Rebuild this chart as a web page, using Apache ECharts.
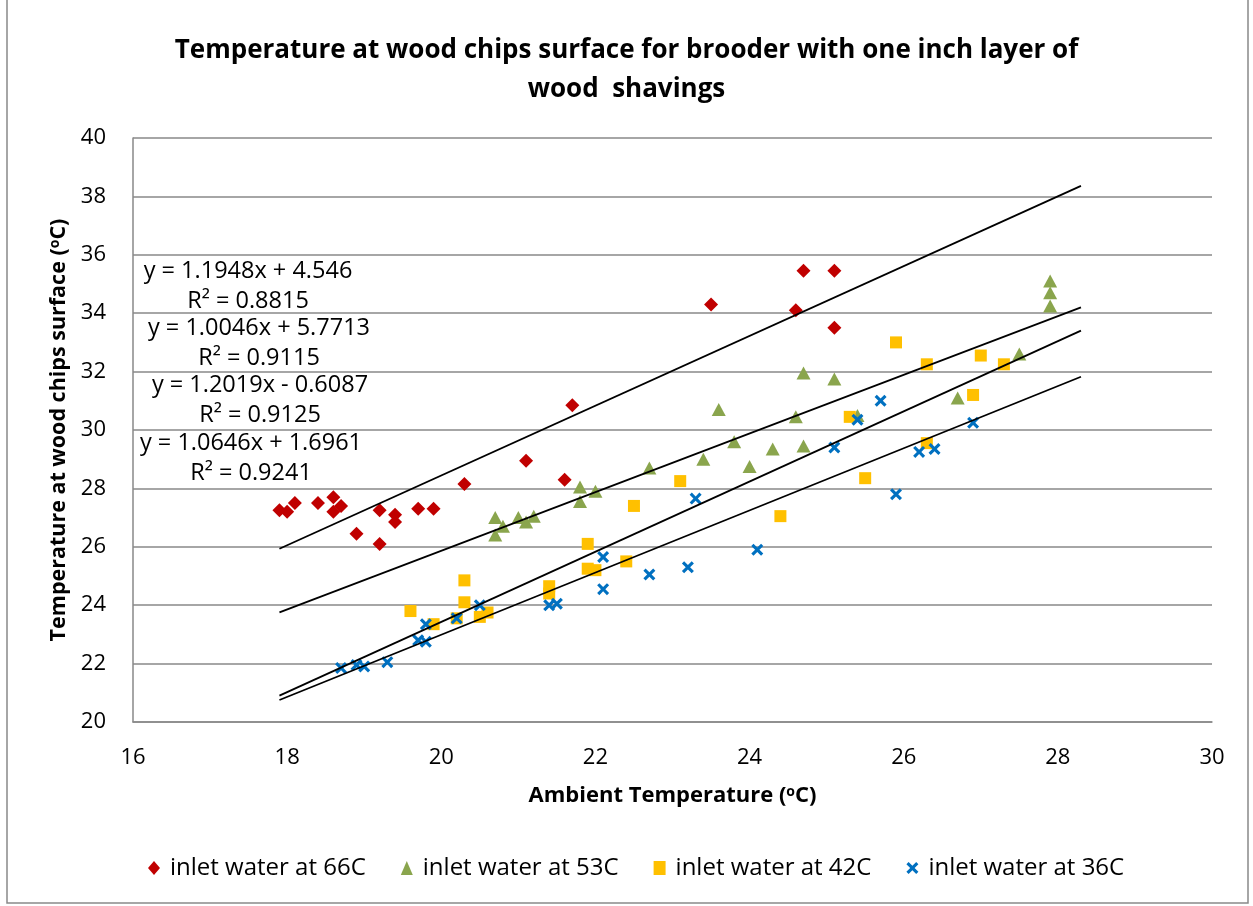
<!DOCTYPE html>
<html>
<head>
<meta charset="utf-8">
<script src="https://cdn.jsdelivr.net/npm/echarts@6/dist/echarts.min.js"></script>
<style>
  html, body { margin: 0; padding: 0; background: #fff; }
  #chart { width: 1253px; height: 906px; }
</style>
</head>
<body>
<div id="chart"></div>
<script>
// Measured surface temperature vs ambient temperature, one series per inlet water temperature
const seriesNames = ['inlet water at 66C', 'inlet water at 53C', 'inlet water at 42C', 'inlet water at 36C'];

const inlet66 = [[17.9,27.25],[18.0,27.2],[18.1,27.5],[18.4,27.5],[18.6,27.7],[18.6,27.2],[18.7,27.4],
  [18.9,26.45],[19.2,27.25],[19.2,26.1],[19.4,27.1],[19.4,26.85],[19.7,27.3],[19.9,27.3],[20.3,28.15],
  [21.1,28.95],[21.6,28.3],[21.7,30.85],[23.5,34.3],[24.6,34.1],[24.7,35.45],[25.1,35.45],[25.1,33.5]];

const inlet53 = [[20.7,26.4],[20.7,27.0],[20.8,26.7],[21.0,27.0],[21.1,26.85],[21.2,27.05],[21.8,28.05],
  [21.8,27.55],[22.0,27.9],[22.7,28.7],[23.4,29.0],[23.6,30.7],[23.8,29.6],[24.0,28.75],[24.3,29.35],
  [24.6,30.45],[24.7,31.95],[24.7,29.45],[25.1,31.75],[25.4,30.5],[26.7,31.1],[27.5,32.6],[27.9,35.1],
  [27.9,34.7],[27.9,34.25]];

const inlet42 = [[19.6,23.8],[19.9,23.35],[20.2,23.55],[20.3,24.85],[20.3,24.1],[20.5,23.6],[20.6,23.75],
  [21.4,24.65],[21.4,24.4],[21.9,26.1],[21.9,25.25],[22.0,25.2],[22.4,25.5],[22.5,27.4],[23.1,28.25],
  [24.4,27.05],[25.3,30.45],[25.5,28.35],[25.9,33.0],[26.3,32.25],[26.3,29.55],[26.9,31.2],[27.0,32.55],
  [27.3,32.25]];

const inlet36 = [[18.7,21.85],[18.9,21.95],[19.0,21.9],[19.3,22.05],[19.7,22.8],[19.8,22.75],[19.8,23.35],
  [20.2,23.55],[20.5,24.0],[21.4,24.0],[21.5,24.05],[22.1,25.65],[22.1,24.55],[22.7,25.05],[23.2,25.3],
  [23.3,27.65],[24.1,25.9],[25.1,29.4],[25.4,30.35],[25.7,31.0],[25.9,27.8],[26.2,29.25],[26.4,29.35],
  [26.9,30.25]];

// Linear trendlines (one per series), as stated in the equation labels
const trendSlopes = [1.1948, 1.0046, 1.2019, 1.0646];
const trendIntercepts = [4.546, 5.7713, -0.6087, 1.6961];
const trendR2 = ['0.8815', '0.9115', '0.9125', '0.9241'];
const trendRange = [17.9, 28.3];

// Axis scales
const xAxisRange = [16, 30, 2];
const yAxisRange = [20, 40, 2];

const FONT = "'Open Sans', 'Noto Sans', sans-serif";
const seriesColors = ['#C00000', '#8AA54D', '#FFC000', '#0070C0'];
const crossPath = 'path://M0,2.2 L2.2,0 L6,3.8 L9.8,0 L12,2.2 L8.2,6 L12,9.8 L9.8,12 L6,8.2 L2.2,12 L0,9.8 L3.8,6 Z';
const symbols = ['diamond', 'triangle', 'rect', crossPath];
const symbolSizes = [[14, 14], [14, 13], [12, 12], [12, 12]];
const allData = [inlet66, inlet53, inlet42, inlet36];

function fmtEq(i) {
  const b = trendIntercepts[i];
  const sign = b < 0 ? ' - ' : ' + ';
  return 'y = ' + trendSlopes[i].toFixed(4) + 'x' + sign + String(Math.abs(b));
}

const scatterSeries = allData.map((d, i) => ({
  name: seriesNames[i],
  type: 'scatter',
  data: d,
  symbol: symbols[i],
  symbolSize: symbolSizes[i],
  itemStyle: { color: seriesColors[i], opacity: 1 },
  z: 2
}));

const trendSeries = trendSlopes.map((m, i) => ({
  name: 'trend' + i,
  type: 'line',
  data: trendRange.map(x => [x, m * x + trendIntercepts[i]]),
  symbol: 'none',
  lineStyle: { color: '#000', width: 1.8 },
  silent: true,
  z: 3
}));

// Equation label blocks placed at the left of the plot area
const labelPos = [[248, 271], [259, 328], [260, 385], [251, 443]];
const eqGraphics = [];
labelPos.forEach((p, i) => {
  eqGraphics.push({
    type: 'text', x: p[0], y: p[1],
    style: { text: fmtEq(i), font: '23.5px ' + FONT, fill: '#000', textAlign: 'center', textVerticalAlign: 'middle' },
    z: 10
  });
  eqGraphics.push({
    type: 'text', x: p[0], y: p[1] + 30,
    style: { text: 'R\u00B2 = ' + trendR2[i], font: '23.5px ' + FONT, fill: '#000', textAlign: 'center', textVerticalAlign: 'middle' },
    z: 10
  });
});

const chart = echarts.init(document.getElementById('chart'), null, { renderer: 'canvas' });

const axisLineStyle = { color: '#898989', width: 1.5 };

chart.setOption({
  animation: false,
  backgroundColor: '#fff',
  title: {
    text: 'Temperature at wood chips surface for brooder with one inch layer of\nwood  shavings',
    left: 'center',
    top: 26,
    textStyle: { fontFamily: FONT, fontWeight: 'bold', fontSize: 26, lineHeight: 39, color: '#000' }
  },
  grid: { left: 133, right: 41, top: 138, bottom: 184, containLabel: false },
  legend: {
    data: seriesNames,
    bottom: 21,
    left: 143,
    itemGap: 35,
    itemWidth: 12,
    itemHeight: 14,
    textStyle: { fontFamily: FONT, fontSize: 24, color: '#000', padding: [0, 0, 0, 5] }
  },
  xAxis: {
    type: 'value',
    min: xAxisRange[0], max: xAxisRange[1], interval: xAxisRange[2],
    name: '{b|Ambient Temperature (}{s|o}{b|C)}',
    nameLocation: 'middle',
    nameGap: 63,
    nameTextStyle: {
      rich: {
        b: { fontFamily: FONT, fontWeight: 'bold', fontSize: 22, color: '#000' },
        s: { fontFamily: FONT, fontWeight: 'bold', fontSize: 14, color: '#000', verticalAlign: 'top', padding: [0, 0, 7, 0] }
      }
    },
    axisLine: { show: true, lineStyle: axisLineStyle },
    axisTick: { show: false },
    splitLine: { show: false },
    axisLabel: { fontFamily: FONT, fontSize: 22, color: '#000', margin: 25 }
  },
  yAxis: {
    type: 'value',
    min: yAxisRange[0], max: yAxisRange[1], interval: yAxisRange[2],
    name: '{b|Temperature at wood chips surface (}{s|o}{b|C)}',
    nameLocation: 'middle',
    nameGap: 62,
    nameRotate: 90,
    nameTextStyle: {
      rich: {
        b: { fontFamily: FONT, fontWeight: 'bold', fontSize: 21.5, color: '#000' },
        s: { fontFamily: FONT, fontWeight: 'bold', fontSize: 14, color: '#000', verticalAlign: 'top', padding: [0, 0, 7, 0] }
      }
    },
    axisLine: { show: true, lineStyle: axisLineStyle },
    axisTick: { show: false },
    splitLine: { show: true, lineStyle: axisLineStyle },
    axisLabel: { fontFamily: FONT, fontSize: 22, color: '#000', margin: 27 }
  },
  graphic: [
    {
      type: 'rect',
      shape: { x: 7, y: -5, width: 1241, height: 908 },
      style: { fill: 'none', stroke: '#898989', lineWidth: 1.5 },
      silent: true
    }
  ].concat(eqGraphics),
  series: scatterSeries.concat(trendSeries)
});
</script>
</body>
</html>
